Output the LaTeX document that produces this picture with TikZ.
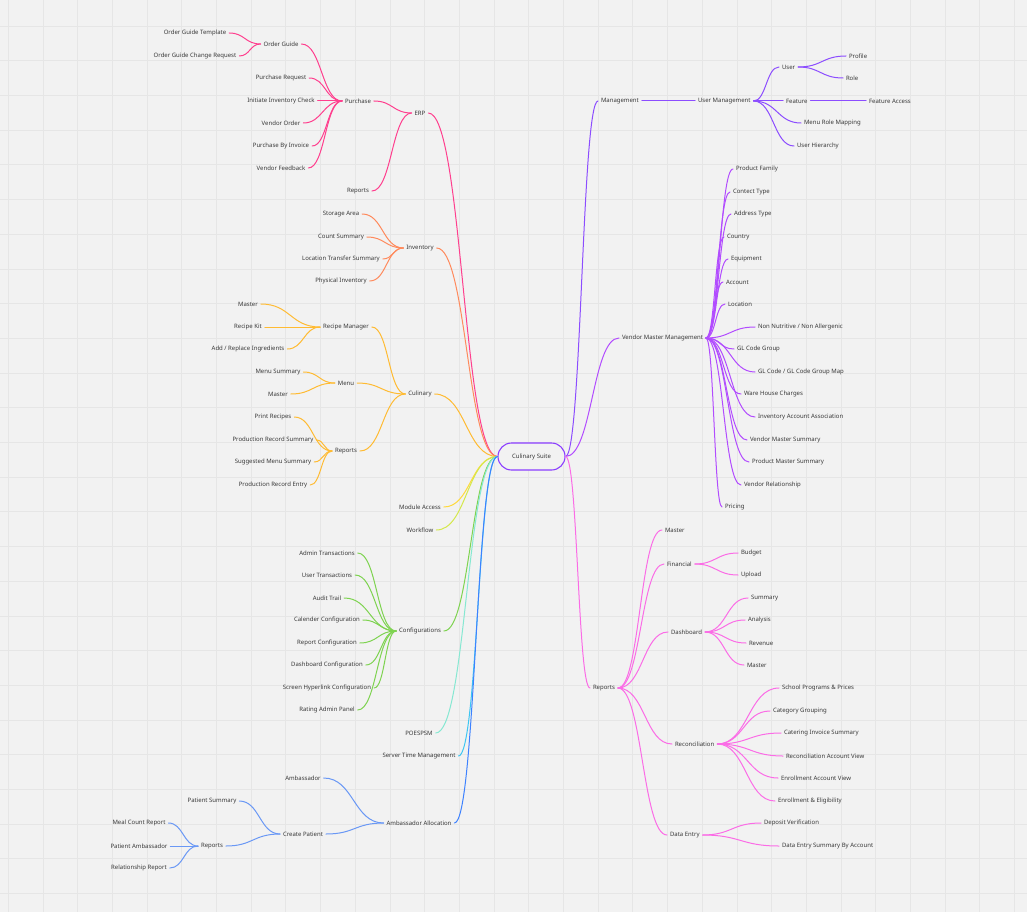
\documentclass[tikz,border=0pt]{standalone}
\usepackage{fontspec}
\setmainfont{Noto Sans}
\usetikzlibrary{calc}
\definecolor{bg}{HTML}{F2F2F2}
\definecolor{gridc}{HTML}{E6E6E6}
\definecolor{txt}{HTML}{383838}
\definecolor{rootc}{HTML}{8B3DFF}
\definecolor{erpc}{HTML}{FF3F8E}
\definecolor{invc}{HTML}{FF8A5C}
\definecolor{culc}{HTML}{FFBB33}
\definecolor{modc}{HTML}{FFD93D}
\definecolor{wfc}{HTML}{D4E84A}
\definecolor{confc}{HTML}{7ED350}
\definecolor{poec}{HTML}{86E8D2}
\definecolor{stmc}{HTML}{3EC6F2}
\definecolor{ambc}{HTML}{3D82FF}
\definecolor{ambl}{HTML}{6A98F5}
\definecolor{mgmc}{HTML}{8C4DFF}
\definecolor{vmmc}{HTML}{B24CFF}
\definecolor{repc}{HTML}{FB6CE6}
\newcommand\lnk[3]{\draw[con,#1] let \p1=(#2), \p2=(#3) in (\p1) .. controls ({0.5*\x1+0.5*\x2},\y1) and ({0.5*\x1+0.5*\x2},\y2) .. (\p2);}
\begin{document}
\begin{tikzpicture}[x=1pt,y=-1pt,
  n/.style={font=\fontsize{6}{7}\selectfont, text=txt, inner xsep=3pt, inner ysep=1pt, outer sep=0pt},
  R/.style={n, anchor=west},
  con/.style={line width=1pt, line cap=round},
  rootbox/.style={draw=rootc, line width=1.1pt, fill=bg, rounded corners=13.5pt, minimum width=67pt, minimum height=27pt, inner sep=0pt, font=\fontsize{6}{7}\selectfont, text=txt}]
\fill[bg] (0,0) rectangle (1027,912);
\useasboundingbox (0,0) rectangle (1027,912);
\foreach \i in {0,...,29} \draw[gridc, line width=0.7pt] ({8.2+34.7*\i},0) -- ({8.2+34.7*\i},912);
\foreach \i in {1,...,26} \draw[gridc, line width=0.7pt] (0,{-8.7+34.7*\i}) -- (1027,{-8.7+34.7*\i});

\node[rootbox] (root) at (531.5,456.5) {Culinary Suite};

% ---------- left side ----------
\node[n] (erp) at (420,113) {ERP};
\node[n] (purchase) at (358,101) {Purchase};
\node[n] (og) at (281,44) {Order Guide};
\node[n] (ogt) at (195,33) {Order Guide Template};
\node[n] (ogcr) at (195,56) {Order Guide Change Request};
\node[n] (pr) at (281,78) {Purchase Request};
\node[n] (iic) at (281,101) {Initiate Inventory Check};
\node[n] (vo) at (281,123) {Vendor Order};
\node[n] (pbi) at (281,146) {Purchase By Invoice};
\node[n] (vf) at (281,168) {Vendor Feedback};
\node[n] (erprep) at (358,191) {Reports};

\node[n] (inv) at (420,248) {Inventory};
\node[n] (sa) at (341,214) {Storage Area};
\node[n] (cs) at (341,237) {Count Summary};
\node[n] (lts) at (341,259) {Location Transfer Summary};
\node[n] (pi) at (341,281) {Physical Inventory};

\node[n] (cul) at (420,394) {Culinary};
\node[n] (rm) at (346,327) {Recipe Manager};
\node[n] (mas1) at (248,304) {Master};
\node[n] (rk) at (248,327) {Recipe Kit};
\node[n] (ari) at (248,349) {Add / Replace Ingredients};
\node[n] (menu) at (346,383) {Menu};
\node[n] (ms) at (278,372) {Menu Summary};
\node[n] (mas2) at (278,394) {Master};
\node[n] (crep) at (346,451) {Reports};
\node[n] (prc) at (273,417) {Print Recipes};
\node[n] (prs) at (273,440) {Production Record Summary};
\node[n] (sms) at (273,462) {Suggested Menu Summary};
\node[n] (pre) at (273,485) {Production Record Entry};

\node[n] (ma) at (420,507) {Module Access};
\node[n] (wf) at (420,530) {Workflow};

\node[n] (conf) at (420,631) {Configurations};
\node[n] (at) at (327,553) {Admin Transactions};
\node[n] (ut) at (327,575) {User Transactions};
\node[n] (au) at (327,598) {Audit Trail};
\node[n] (cc) at (327,620) {Calender Configuration};
\node[n] (rc) at (327,643) {Report Configuration};
\node[n] (dc) at (327,665) {Dashboard Configuration};
\node[n] (shc) at (327,688) {Screen Hyperlink Configuration};
\node[n] (rap) at (327,710) {Rating Admin Panel};

\node[n] (poe) at (419,733) {POESPSM};
\node[n] (stm) at (419,756) {Server Time Management};

\node[n] (aa) at (419,823) {Ambassador Allocation};
\node[n] (amb) at (303,778) {Ambassador};
\node[n] (cp) at (303,834) {Create Patient};
\node[n] (ps) at (212,801) {Patient Summary};
\node[n] (arep) at (212,846) {Reports};
\node[n] (mcr) at (139,823) {Meal Count Report};
\node[n] (pa) at (139,846) {Patient Ambassador};
\node[n] (rr) at (139,868) {Relationship Report};

% ---------- right side ----------
\node[R] (mgmt) at (598,101) {Management};
\node[R] (um) at (695,101) {User Management};
\node[R] (user) at (779,67) {User};
\node[R] (profile) at (846,56) {Profile};
\node[R] (role) at (843,78) {Role};
\node[R] (feature) at (783,101) {Feature};
\node[R] (fa) at (866,101) {Feature Access};
\node[R] (mrm) at (801,123) {Menu Role Mapping};
\node[R] (uh) at (794,146) {User Hierarchy};

\node[R] (vmm) at (619,338) {Vendor Master Management};
\node[R] (pf) at (733,169) {Product Family};
\node[R] (ct) at (730,192) {Contect Type};
\node[R] (adt) at (731,214) {Address Type};
\node[R] (country) at (724,237) {Country};
\node[R] (equip) at (728,259) {Equipment};
\node[R] (account) at (723,282) {Account};
\node[R] (location) at (725,304) {Location};
\node[R] (nn) at (755,327) {Non Nutritive / Non Allergenic};
\node[R] (glg) at (734,349) {GL Code Group};
\node[R] (glm) at (755,372) {GL Code / GL Code Group Map};
\node[R] (whc) at (741,394) {Ware House Charges};
\node[R] (iaa) at (755,417) {Inventory Account Association};
\node[R] (vms) at (747,440) {Vendor Master Summary};
\node[R] (pms) at (749,462) {Product Master Summary};
\node[R] (vr) at (741,485) {Vendor Relationship};
\node[R] (pricing) at (722,507) {Pricing};

\node[R] (rrep) at (590,688) {Reports};
\node[R] (rmas) at (662,530) {Master};
\node[R] (fin) at (664,564) {Financial};
\node[R] (budget) at (738,553) {Budget};
\node[R] (upload) at (738,575) {Upload};
\node[R] (dash) at (668,632) {Dashboard};
\node[R] (summary) at (748,598) {Summary};
\node[R] (analysis) at (745,620) {Analysis};
\node[R] (revenue) at (746,643) {Revenue};
\node[R] (dmas) at (744,665) {Master};
\node[R] (recon) at (672,744) {Reconciliation};
\node[R] (spp) at (779,688) {School Programs \& Prices};
\node[R] (cg) at (770,711) {Category Grouping};
\node[R] (cis) at (781,733) {Catering Invoice Summary};
\node[R] (rav) at (783,756) {Reconciliation Account View};
\node[R] (eav) at (778,778) {Enrollment Account View};
\node[R] (ee) at (775,801) {Enrollment \& Eligibility};
\node[R] (de) at (667,835) {Data Entry};
\node[R] (dv) at (761,823) {Deposit Verification};
\node[R] (desa) at (779,846) {Data Entry Summary By Account};

% ---------- connectors, left ----------
\lnk{erpc}{root.west}{erp.east}
\lnk{erpc}{erp.west}{purchase.east}
\lnk{erpc}{erp.west}{erprep.east}
\lnk{erpc}{purchase.west}{og.east}
\foreach \c in {pr,iic,vo,pbi,vf} {\lnk{erpc}{purchase.west}{\c.east}}
\lnk{erpc}{og.west}{ogt.east}
\lnk{erpc}{og.west}{ogcr.east}

\lnk{invc}{root.west}{inv.east}
\foreach \c in {sa,cs,lts,pi} {\lnk{invc}{inv.west}{\c.east}}

\lnk{culc}{root.west}{cul.east}
\foreach \c in {rm,menu,crep} {\lnk{culc}{cul.west}{\c.east}}
\foreach \c in {mas1,rk,ari} {\lnk{culc}{rm.west}{\c.east}}
\foreach \c in {ms,mas2} {\lnk{culc}{menu.west}{\c.east}}
\foreach \c in {prc,prs,sms,pre} {\lnk{culc}{crep.west}{\c.east}}

\lnk{modc}{root.west}{ma.east}
\lnk{wfc}{root.west}{wf.east}

\lnk{confc}{root.west}{conf.east}
\foreach \c in {at,ut,au,cc,rc,dc,shc,rap} {\lnk{confc}{conf.west}{\c.east}}

\lnk{poec}{root.west}{poe.east}
\lnk{stmc}{root.west}{stm.east}

\lnk{ambc}{root.west}{aa.east}
\lnk{ambl}{aa.west}{amb.east}
\lnk{ambl}{aa.west}{cp.east}
\lnk{ambl}{cp.west}{ps.east}
\lnk{ambl}{cp.west}{arep.east}
\foreach \c in {mcr,pa,rr} {\lnk{ambl}{arep.west}{\c.east}}

% ---------- connectors, right ----------
\lnk{mgmc}{root.east}{mgmt.west}
\lnk{mgmc}{mgmt.east}{um.west}
\foreach \c in {user,feature,mrm,uh} {\lnk{mgmc}{um.east}{\c.west}}
\lnk{mgmc}{user.east}{profile.west}
\lnk{mgmc}{user.east}{role.west}
\lnk{mgmc}{feature.east}{fa.west}

\lnk{vmmc}{root.east}{vmm.west}
\foreach \c in {pf,ct,adt,country,equip,account,location,nn,glg,glm,whc,iaa,vms,pms,vr,pricing} {\lnk{vmmc}{vmm.east}{\c.west}}

\lnk{repc}{root.east}{rrep.west}
\foreach \c in {rmas,fin,dash,recon,de} {\lnk{repc}{rrep.east}{\c.west}}
\foreach \c in {budget,upload} {\lnk{repc}{fin.east}{\c.west}}
\foreach \c in {summary,analysis,revenue,dmas} {\lnk{repc}{dash.east}{\c.west}}
\foreach \c in {spp,cg,cis,rav,eav,ee} {\lnk{repc}{recon.east}{\c.west}}
\foreach \c in {dv,desa} {\lnk{repc}{de.east}{\c.west}}
\end{tikzpicture}
\end{document}
